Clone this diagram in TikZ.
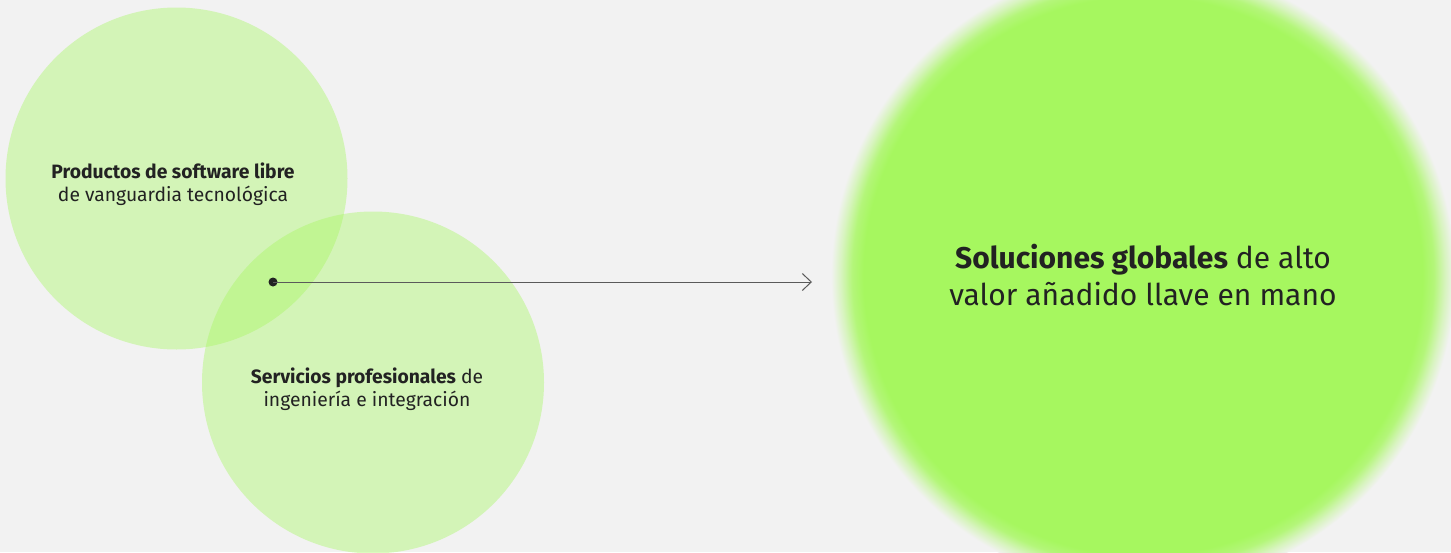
\documentclass[tikz,border=0pt]{standalone}
\usepackage{fontspec}
\setmainfont{Fira Sans}
\usetikzlibrary{arrows.meta}
\definecolor{bgcol}{HTML}{F2F2F2}
\definecolor{blobgreen}{HTML}{A6F75F}
\definecolor{inkcol}{HTML}{222222}
\definecolor{linecol}{HTML}{5A5A5A}
\pgfdeclareradialshading{blobshade}{\pgfpoint{0bp}{0bp}}{%
  color(0bp)=(blobgreen); color(22.4bp)=(blobgreen);
  color(23.3bp)=(blobgreen!82!bgcol); color(24.2bp)=(blobgreen!35!bgcol);
  color(25bp)=(bgcol); color(50bp)=(bgcol)}
\tikzset{
  softcircle/.style={circle, inner sep=0pt, minimum size=342pt, fill=blobgreen, fill opacity=0.4, draw=none},
  smalltext/.style={align=center, text=inkcol, font=\fontsize{19.3}{23}\selectfont},
  bigtext/.style={align=center, text=inkcol, font=\fontsize{30}{37}\selectfont},
  dotnode/.style={circle, fill=inkcol, inner sep=0pt, minimum size=9pt},
  connector/.style={line width=1pt, draw=linecol, -{Straight Barb[length=9pt,width=17pt,line width=1pt]}}
}
\begin{document}
\begin{tikzpicture}[x=1pt,y=-1pt]
\clip (0,0) rectangle (1451,552);
\fill[bgcol] (0,0) rectangle (1451,552);
% big blurred circle
\shade[shading=blobshade] (1143,276) circle[radius=312pt];
% light circles
\node[softcircle] (c1) at (176.5,178.5) {};
\node[softcircle] (c2) at (373,382.5) {};
% texts
\node[smalltext] (t1) at (173,184) {\textbf{Productos de software libre}\\de vanguardia tecnológica};
\node[smalltext] (t2) at (367,389) {\textbf{Servicios profesionales} de\\ingeniería e integración};
\node[bigtext] (t3) at (1143,275) {\textbf{Soluciones globales} de alto\\valor añadido llave en mano};
% connector
\node[dotnode] (d) at (273,282) {};
\coordinate (e) at (812,282);
\draw[connector] (d.center) -- (e);
\end{tikzpicture}
\end{document}
